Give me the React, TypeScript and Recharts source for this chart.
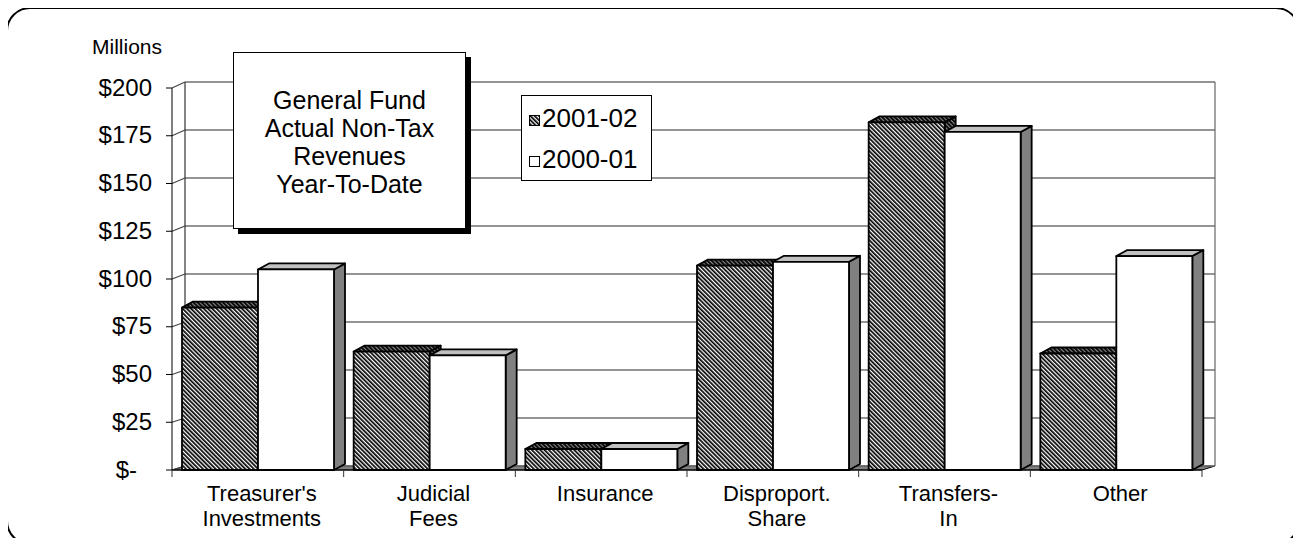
import React from 'react';
import { BarChart, Bar, XAxis, YAxis, CartesianGrid, Legend } from 'recharts';

// ---------- data ----------
const categories = ["Treasurer's\nInvestments", 'Judicial\nFees', 'Insurance', 'Disproport.\nShare', 'Transfers-\nIn', 'Other'];
const series2001_02 = [85, 62, 11, 107, 182, 61];
const series2000_01 = [105, 60, 11, 109, 177, 112];
const seriesNames = ['2001-02', '2000-01'];
const yTicks = [0, 25, 50, 75, 100, 125, 150, 175, 200];
const titleLines = ['General Fund', 'Actual Non-Tax', 'Revenues', 'Year-To-Date'];
const yUnitLabel = 'Millions';

const data = categories.map((c, i) => ({ category: c, s1: series2001_02[i], s2: series2000_01[i] }));

// ---------- layout ----------
const FONT = '"Liberation Sans", Arial, sans-serif';
const W = 1285;
const H = 530;
const M = { top: 80, right: 91, bottom: 8, left: 0 };
const Y_AXIS_W = 164;
const X_AXIS_H = 60;
const PLOT_TOP = M.top;
const PLOT_BOTTOM = H - M.bottom - X_AXIS_H;
const PLOT_LEFT = Y_AXIS_W;
const PLOT_RIGHT = W - M.right;
const BAND = (PLOT_RIGHT - PLOT_LEFT) / categories.length;
const WALL_DX = 13;
const wallDy = (y: number) => 4 + (2 * (PLOT_BOTTOM - y)) / (PLOT_BOTTOM - PLOT_TOP);
const BAR_DX = 11;
const BAR_DY = 6;

const renderGridLine = (p: any) => {
  const { x1, x2, y1, index } = p;
  const d = wallDy(y1);
  const isTop = Math.abs(y1 - PLOT_TOP) < 0.5;
  const isBottom = Math.abs(y1 - PLOT_BOTTOM) < 0.5;
  const bx1 = x1 + WALL_DX;
  const bx2 = x2 + WALL_DX;
  const by = y1 - d;
  const backBottom = PLOT_BOTTOM - wallDy(PLOT_BOTTOM);
  return (
    <g key={`grid-${index}`}>
      {isBottom && (
        <polygon
          points={`${x1},${y1} ${x2},${y1} ${bx2},${by} ${bx1},${by}`}
          fill="#808080"
          stroke="#000"
          strokeWidth={1}
        />
      )}
      <line x1={x1} y1={y1} x2={bx1} y2={by} stroke="#444" strokeWidth={1.2} />
      <line x1={bx1} y1={by} x2={bx2} y2={by} stroke="#707070" strokeWidth={1.3} />
      {isTop && (
        <>
          <line x1={bx1} y1={by} x2={bx1} y2={backBottom} stroke="#333" strokeWidth={1.2} />
          <line x1={bx2} y1={by} x2={bx2} y2={backBottom} stroke="#707070" strokeWidth={1.3} />
        </>
      )}
    </g>
  );
};

const makeBarShape = (front: string, top: string, side: string) => (p: any) => {
  const { x, y, width: w, height: h } = p;
  if (w == null || h == null || isNaN(x) || isNaN(y)) return <g />;
  const s = { stroke: '#000', strokeWidth: 1.8, strokeLinejoin: 'round' as const };
  return (
    <g>
      <polygon
        points={`${x + w},${y} ${x + w + BAR_DX},${y - BAR_DY} ${x + w + BAR_DX},${y + h - BAR_DY} ${x + w},${y + h}`}
        fill={side}
        {...s}
      />
      <polygon
        points={`${x},${y} ${x + BAR_DX},${y - BAR_DY} ${x + w + BAR_DX},${y - BAR_DY} ${x + w},${y}`}
        fill={top}
        {...s}
      />
      <rect x={x} y={y} width={w} height={h} fill={front} {...s} />
    </g>
  );
};

const hatchShape = makeBarShape('url(#hatch)', 'url(#hatchDark)', 'url(#hatchDark)');
const whiteShape = makeBarShape('#ffffff', '#c0c0c0', '#808080');

const renderYTick = (p: any) => {
  const v = p.payload.value;
  const label = v === 0 ? '$-' : `$${v}`;
  return (
    <text
      x={p.x - (v === 0 ? 15 : 0)}
      y={p.y - 1}
      textAnchor="end"
      dominantBaseline="central"
      fontSize={24}
      fontFamily={FONT}
      fill="#000"
    >
      {label}
    </text>
  );
};

const renderXTick = (p: any) => {
  const lines = String(p.payload.value).split('\n');
  const cx = p.x;
  const ay = p.y;
  return (
    <g>
      {p.index === 0 && <line x1={cx - BAND / 2} y1={ay} x2={cx - BAND / 2} y2={ay + 7} stroke="#333" />}
      <line x1={cx + BAND / 2} y1={ay} x2={cx + BAND / 2} y2={ay + 7} stroke="#333" />
      {lines.map((t, i) => (
        <text
          key={i}
          x={cx + 4}
          y={ay + 31 + i * 24.5}
          textAnchor="middle"
          fontSize={22}
          fontFamily={FONT}
          fill="#000"
        >
          {t}
        </text>
      ))}
    </g>
  );
};

const renderLegend = () => (
  <svg width={131} height={86} style={{ display: 'block' }}>
    <defs>
      <pattern id="hatchLegend" patternUnits="userSpaceOnUse" width={3} height={3} patternTransform="rotate(-45)">
        <rect width={3} height={3} fill="#fff" />
        <rect width={1.7} height={3} fill="#000" />
      </pattern>
    </defs>
    <rect x={0.5} y={0.5} width={130} height={85} fill="#fff" stroke="#000" strokeWidth={1} />
    {seriesNames.map((n, i) => (
      <g key={n}>
        <rect
          x={8.5}
          y={20.5 + i * 41}
          width={10}
          height={10}
          fill={i === 0 ? 'url(#hatchLegend)' : '#fff'}
          stroke="#000"
          strokeWidth={1}
        />
        <text x={21} y={32 + i * 41} fontSize={26} fontFamily={FONT} fill="#000">
          {n}
        </text>
      </g>
    ))}
  </svg>
);

export default function App() {
  return (
    <div style={{ position: 'relative', width: W, height: H, fontFamily: FONT }}>
      <BarChart width={W} height={H} data={data} margin={M} barCategoryGap={10} barGap={0}>
        <defs>
          <pattern id="hatch" patternUnits="userSpaceOnUse" width={3} height={3} patternTransform="rotate(-45)">
            <rect width={3} height={3} fill="#fff" />
            <rect width={1.7} height={3} fill="#000" />
          </pattern>
          <pattern id="hatchDark" patternUnits="userSpaceOnUse" width={3} height={3} patternTransform="rotate(-45)">
            <rect width={3} height={3} fill="#888" />
            <rect width={1.8} height={3} fill="#000" />
          </pattern>
        </defs>
        <CartesianGrid horizontal={renderGridLine} vertical={false} />
        <XAxis
          dataKey="category"
          height={X_AXIS_H}
          tickSize={0}
          tickMargin={0}
          tickLine={false}
          axisLine={{ stroke: '#000', strokeWidth: 1 }}
          tick={renderXTick}
          interval={0}
        />
        <YAxis
          type="number"
          domain={[0, 200]}
          ticks={yTicks}
          width={Y_AXIS_W}
          tickSize={6}
          tickMargin={14}
          axisLine={{ stroke: '#000', strokeWidth: 1 }}
          tickLine={{ stroke: '#000', strokeWidth: 1 }}
          tick={renderYTick}
          interval={0}
        />
        <Legend
          layout="horizontal"
          verticalAlign="middle"
          align="center"
          wrapperStyle={{ left: 513, top: 87, width: 131, height: 86 }}
          content={renderLegend}
        />
        <Bar dataKey="s1" name={seriesNames[0]} fill="#555" shape={hatchShape} isAnimationActive={false} />
        <Bar dataKey="s2" name={seriesNames[1]} fill="#fff" shape={whiteShape} isAnimationActive={false} />
      </BarChart>

      <div
        style={{
          position: 'absolute',
          left: 84,
          top: 27,
          fontSize: 21,
          lineHeight: '24px',
          color: '#000',
          whiteSpace: 'nowrap',
        }}
      >
        {yUnitLabel}
      </div>

      <div
        style={{
          position: 'absolute',
          left: 225,
          top: 44,
          width: 233,
          height: 177,
          boxSizing: 'border-box',
          border: '1.6px solid #000',
          background: '#fff',
          boxShadow: '5px 5px 0 #000',
          display: 'flex',
          flexDirection: 'column',
          justifyContent: 'center',
          alignItems: 'center',
          fontSize: 25,
          lineHeight: '28px',
          color: '#000',
          paddingTop: 3,
        }}
      >
        {titleLines.map((t) => (
          <div key={t} style={{ whiteSpace: 'nowrap' }}>
            {t}
          </div>
        ))}
      </div>

      <div
        style={{
          position: 'absolute',
          left: -2,
          top: -1,
          width: 1294,
          height: 538,
          boxSizing: 'border-box',
          border: '2px solid #000',
          borderRadius: 24,
          pointerEvents: 'none',
        }}
      />
    </div>
  );
}
